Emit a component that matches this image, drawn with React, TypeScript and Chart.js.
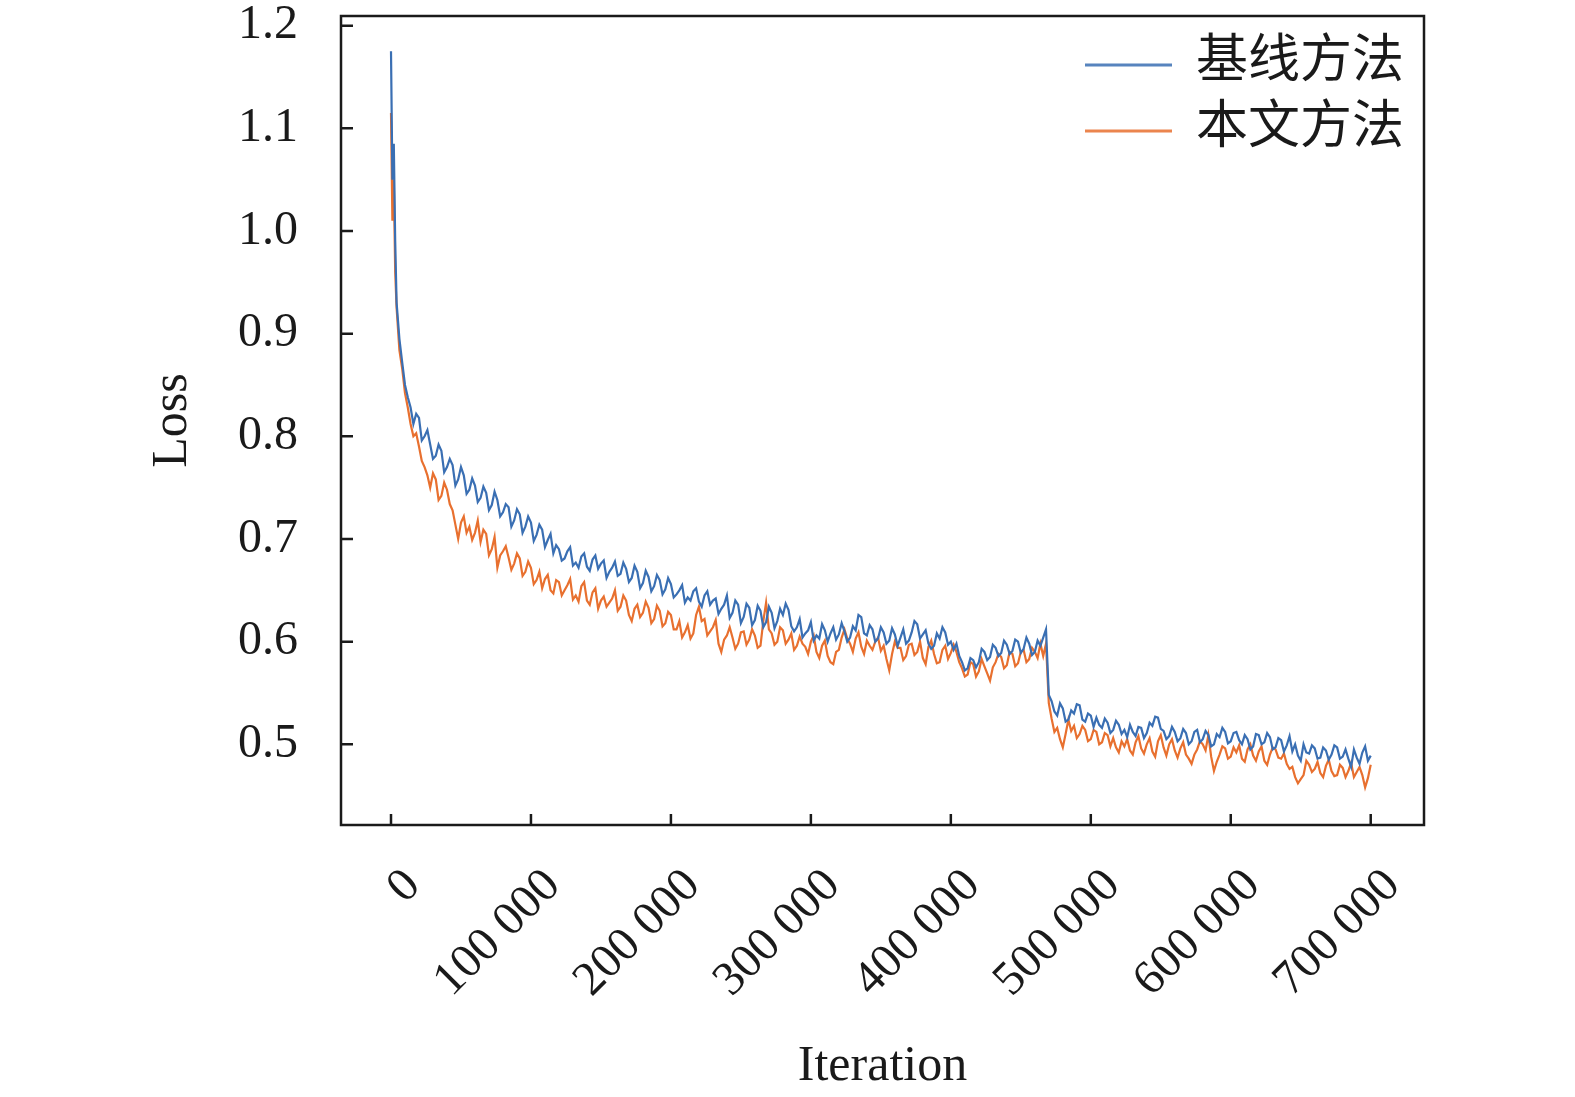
import { useEffect, useRef } from "react"
import { Chart, registerables } from "chart.js"

Chart.register(...registerables)

// sampling grid: a few dense points at the start, then every 2000 iterations
const headIterations = [0, 1000, 2000, 3000]
const iterations = [...headIterations, ...Array.from({ length: 349 }, (_, i) => 4000 + i * 2000)]

const seriesNames = ["基线方法", "本文方法"]

const baselineLoss = [
  1.175, 1.05, 1.085, 0.99,
  0.930, 0.895, 0.872, 0.850, 0.838, 0.828, 0.812, 0.822, 0.818, 0.796, 0.800, 0.806, 0.792, 0.778, 0.781, 0.792, 0.786, 0.765, 0.770, 0.778,
  0.772, 0.752, 0.758, 0.770, 0.762, 0.744, 0.748, 0.759, 0.752, 0.736, 0.740, 0.751, 0.745, 0.728, 0.733, 0.746, 0.738, 0.722, 0.726, 0.734,
  0.731, 0.712, 0.718, 0.729, 0.724, 0.706, 0.712, 0.722, 0.716, 0.698, 0.704, 0.714, 0.709, 0.692, 0.699, 0.705, 0.686, 0.694, 0.690, 0.679,
  0.681, 0.688, 0.692, 0.674, 0.677, 0.672, 0.683, 0.686, 0.673, 0.669, 0.680, 0.684, 0.671, 0.676, 0.679, 0.662, 0.668, 0.672, 0.678, 0.664,
  0.666, 0.677, 0.671, 0.658, 0.662, 0.674, 0.668, 0.652, 0.657, 0.669, 0.663, 0.649, 0.654, 0.665, 0.660, 0.646, 0.651, 0.662, 0.656, 0.643,
  0.646, 0.650, 0.655, 0.638, 0.643, 0.640, 0.649, 0.652, 0.639, 0.634, 0.645, 0.649, 0.636, 0.640, 0.642, 0.627, 0.632, 0.636, 0.645, 0.623,
  0.628, 0.640, 0.636, 0.618, 0.624, 0.637, 0.633, 0.616, 0.621, 0.635, 0.630, 0.614, 0.619, 0.634, 0.628, 0.613, 0.620, 0.632, 0.626, 0.637,
  0.631, 0.615, 0.610, 0.614, 0.622, 0.604, 0.608, 0.611, 0.619, 0.601, 0.606, 0.603, 0.617, 0.611, 0.600, 0.608, 0.614, 0.602, 0.607, 0.618,
  0.610, 0.600, 0.604, 0.615, 0.611, 0.626, 0.624, 0.608, 0.606, 0.616, 0.612, 0.600, 0.603, 0.614, 0.609, 0.598, 0.601, 0.613, 0.607, 0.596,
  0.604, 0.612, 0.598, 0.601, 0.609, 0.620, 0.617, 0.603, 0.607, 0.611, 0.598, 0.593, 0.596, 0.608, 0.603, 0.614, 0.609, 0.597, 0.600, 0.592,
  0.598, 0.586, 0.580, 0.572, 0.574, 0.584, 0.582, 0.575, 0.580, 0.593, 0.590, 0.582, 0.585, 0.597, 0.594, 0.586, 0.589, 0.601, 0.597, 0.588,
  0.591, 0.602, 0.600, 0.589, 0.593, 0.604, 0.598, 0.587, 0.590, 0.601, 0.596, 0.604, 0.612, 0.548,
  0.542, 0.532, 0.528, 0.540, 0.535, 0.522, 0.524, 0.533, 0.530, 0.539, 0.538, 0.524, 0.522, 0.530, 0.528, 0.517, 0.526, 0.519, 0.516, 0.525, 0.521, 0.511, 0.514, 0.523, 0.519, 0.510,
  0.514, 0.507, 0.519, 0.512, 0.508, 0.517, 0.516, 0.506, 0.511, 0.521, 0.518, 0.527, 0.526, 0.515, 0.513, 0.505, 0.508, 0.517, 0.512, 0.503,
  0.506, 0.515, 0.511, 0.500, 0.503, 0.512, 0.514, 0.502, 0.505, 0.513, 0.509, 0.498, 0.500, 0.510, 0.507, 0.516, 0.512, 0.501, 0.503, 0.511,
  0.512, 0.504, 0.500, 0.509, 0.505, 0.495, 0.498, 0.510, 0.509, 0.500, 0.502, 0.511, 0.507, 0.495, 0.497, 0.506, 0.504, 0.493, 0.499, 0.508,
  0.493, 0.500, 0.489, 0.484, 0.500, 0.492, 0.491, 0.499, 0.496, 0.486, 0.487, 0.497, 0.494, 0.485, 0.490, 0.499, 0.497, 0.486, 0.488, 0.495,
  0.486, 0.478, 0.495, 0.487, 0.481, 0.492, 0.498, 0.484, 0.489,
]

const proposedLoss = [
  1.115, 1.01, 1.05, 0.96,
  0.925, 0.884, 0.866, 0.842, 0.828, 0.812, 0.800, 0.803, 0.790, 0.776, 0.770, 0.762, 0.750, 0.764, 0.758, 0.738, 0.742, 0.755, 0.748, 0.734,
  0.728, 0.714, 0.700, 0.716, 0.722, 0.706, 0.712, 0.699, 0.706, 0.718, 0.697, 0.709, 0.705, 0.684, 0.690, 0.702, 0.672, 0.684, 0.688, 0.693,
  0.682, 0.670, 0.676, 0.686, 0.681, 0.664, 0.668, 0.678, 0.672, 0.656, 0.660, 0.668, 0.652, 0.661, 0.665, 0.650, 0.647, 0.660, 0.658, 0.645,
  0.650, 0.655, 0.661, 0.641, 0.645, 0.639, 0.654, 0.658, 0.640, 0.636, 0.648, 0.652, 0.632, 0.640, 0.644, 0.634, 0.638, 0.642, 0.650, 0.630,
  0.634, 0.645, 0.640, 0.626, 0.620, 0.632, 0.636, 0.624, 0.628, 0.639, 0.633, 0.618, 0.622, 0.635, 0.630, 0.615, 0.618, 0.629, 0.626, 0.612,
  0.612, 0.620, 0.604, 0.609, 0.616, 0.603, 0.608, 0.626, 0.634, 0.620, 0.622, 0.606, 0.610, 0.614, 0.621, 0.598, 0.590, 0.602, 0.606, 0.614,
  0.604, 0.593, 0.598, 0.609, 0.610, 0.597, 0.602, 0.612, 0.606, 0.594, 0.596, 0.620, 0.638, 0.612, 0.608, 0.597, 0.600, 0.614, 0.611, 0.598,
  0.602, 0.608, 0.592, 0.596, 0.605, 0.598, 0.595, 0.588, 0.600, 0.606, 0.590, 0.584, 0.596, 0.601, 0.586, 0.580, 0.578, 0.590, 0.592, 0.604,
  0.612, 0.603, 0.598, 0.590, 0.603, 0.609, 0.595, 0.588, 0.601, 0.596, 0.592, 0.600, 0.604, 0.591, 0.596, 0.583, 0.572, 0.588, 0.600, 0.594,
  0.594, 0.582, 0.586, 0.597, 0.598, 0.587, 0.590, 0.600, 0.584, 0.578, 0.595, 0.601, 0.588, 0.579, 0.580, 0.592, 0.596, 0.583, 0.589, 0.597,
  0.590, 0.580, 0.574, 0.566, 0.568, 0.580, 0.578, 0.566, 0.571, 0.583, 0.576, 0.569, 0.562, 0.575, 0.580, 0.588, 0.585, 0.574, 0.577, 0.590,
  0.588, 0.576, 0.579, 0.590, 0.592, 0.580, 0.583, 0.594, 0.590, 0.584, 0.598, 0.586, 0.598, 0.540,
  0.525, 0.512, 0.516, 0.505, 0.497, 0.510, 0.524, 0.513, 0.518, 0.506, 0.510, 0.518, 0.514, 0.503, 0.505, 0.514, 0.512, 0.500, 0.502, 0.511, 0.509, 0.498, 0.506, 0.497, 0.492, 0.503,
  0.498, 0.505, 0.494, 0.490, 0.502, 0.508, 0.496, 0.491, 0.500, 0.506, 0.493, 0.488, 0.503, 0.509, 0.497, 0.489, 0.500, 0.505, 0.494, 0.487,
  0.496, 0.502, 0.490, 0.486, 0.481, 0.490, 0.495, 0.503, 0.500, 0.494, 0.509, 0.488, 0.474, 0.483, 0.490, 0.498, 0.496, 0.486, 0.488, 0.497,
  0.492, 0.499, 0.486, 0.483, 0.495, 0.500, 0.489, 0.484, 0.493, 0.498, 0.484, 0.480, 0.490, 0.497, 0.495, 0.487, 0.486, 0.491, 0.481, 0.476,
  0.478, 0.468, 0.462, 0.466, 0.470, 0.484, 0.480, 0.473, 0.476, 0.483, 0.472, 0.468, 0.479, 0.485, 0.474, 0.469, 0.470, 0.480, 0.477, 0.468,
  0.474, 0.482, 0.468, 0.473, 0.478, 0.470, 0.458, 0.467, 0.480,
]

const xTicks = [0, 100000, 200000, 300000, 400000, 500000, 600000, 700000]
const yTicks = [0.5, 0.6, 0.7, 0.8, 0.9, 1.0, 1.1, 1.2]

const BLUE = "#3a6fb3"
const ORANGE = "#e8702f"
const INK = "#1a1a1a"
const SERIF = '"Liberation Serif", "Times New Roman", serif'
const CJK = '"Liberation Serif", "Noto Sans CJK SC", serif'

const fmtIteration = (v: number) => (v === 0 ? "0" : `${v / 1000} 000`)

// frame, inward ticks and the in-plot legend
const framePlugin = {
  id: "frame",
  afterDraw(chart: any) {
    const { ctx, chartArea, scales } = chart
    const { left, right, top, bottom } = chartArea
    ctx.save()
    ctx.strokeStyle = INK
    ctx.lineWidth = 2.5
    ctx.strokeRect(left, top, right - left, bottom - top)
    ctx.beginPath()
    xTicks.forEach((v) => {
      const px = scales.x.getPixelForValue(v)
      ctx.moveTo(px, bottom)
      ctx.lineTo(px, bottom - 11)
    })
    yTicks.forEach((v) => {
      const py = scales.y.getPixelForValue(v)
      ctx.moveTo(left, py)
      ctx.lineTo(left + 12, py)
    })
    ctx.stroke()

    const colors = [BLUE, ORANGE]
    ctx.font = `52px ${CJK}`
    ctx.textBaseline = "middle"
    ctx.textAlign = "left"
    seriesNames.forEach((name, i) => {
      const cy = top + 49 + i * 66
      ctx.strokeStyle = colors[i]
      ctx.globalAlpha = 0.85
      ctx.lineWidth = 3
      ctx.beginPath()
      ctx.moveTo(right - 339, cy)
      ctx.lineTo(right - 252, cy)
      ctx.stroke()
      ctx.globalAlpha = 1
      ctx.fillStyle = INK
      ctx.fillText(name, right - 228, cy - 2)
    })
    ctx.restore()
  },
}

const noScalePadding = (scale: any) => {
  scale.paddingTop = 0
  scale.paddingBottom = 0
  scale.paddingLeft = 0
  scale.paddingRight = 0
}

export default function App() {
  const canvasRef = useRef<HTMLCanvasElement | null>(null)
  const chartRef = useRef<Chart | null>(null)

  useEffect(() => {
    document.body.style.margin = "0"
    if (!canvasRef.current) return
    if (chartRef.current) chartRef.current.destroy()

    chartRef.current = new Chart(canvasRef.current, {
      type: "line",
      data: {
        datasets: [
          {
            label: seriesNames[0],
            data: iterations.map((x, i) => ({ x, y: baselineLoss[i] })),
            borderColor: BLUE,
            borderWidth: 2.2,
            pointRadius: 0,
          },
          {
            label: seriesNames[1],
            data: iterations.map((x, i) => ({ x, y: proposedLoss[i] })),
            borderColor: ORANGE,
            borderWidth: 2.2,
            pointRadius: 0,
          },
        ],
      },
      plugins: [framePlugin],
      options: {
        animation: false,
        responsive: true,
        maintainAspectRatio: false,
        layout: { padding: { top: 16, right: 151, left: 0, bottom: 0 } },
        plugins: {
          legend: { display: false },
          tooltip: { enabled: false },
        },
        scales: {
          x: {
            type: "linear",
            min: -35725,
            max: 738070,
            afterBuildTicks: (scale: any) => {
              scale.ticks = xTicks.map((value) => ({ value }))
            },
            afterFit: (scale: any) => {
              scale.height = 272
              noScalePadding(scale)
            },
            grid: { display: false, drawTicks: false },
            border: { display: false },
            ticks: {
              color: INK,
              font: { family: SERIF, size: 48 },
              minRotation: 45,
              maxRotation: 45,
              padding: 33,
              labelOffset: 22,
              callback: (v: any) => fmtIteration(Number(v)),
            },
            title: {
              display: true,
              text: "Iteration",
              color: INK,
              font: { family: SERIF, size: 50 },
              padding: { top: 0, bottom: 0 },
            },
          },
          y: {
            min: 0.4214,
            max: 1.2094,
            afterBuildTicks: (scale: any) => {
              scale.ticks = yTicks.map((value) => ({ value }))
            },
            afterFit: (scale: any) => {
              scale.width = 341
              noScalePadding(scale)
            },
            grid: { display: false, drawTicks: false },
            border: { display: false },
            ticks: {
              color: INK,
              font: { family: SERIF, size: 48 },
              padding: 43,
              callback: (v: any) => Number(v).toFixed(1),
            },
            title: {
              display: true,
              text: "Loss",
              color: INK,
              font: { family: SERIF, size: 50 },
              padding: { top: 143, bottom: 0 },
            },
          },
        },
      },
    })

    return () => {
      if (chartRef.current) {
        chartRef.current.destroy()
        chartRef.current = null
      }
    }
  }, [])

  return (
    <div style={{ width: "1575px", height: "1097px", position: "relative" }}>
      <canvas ref={canvasRef}></canvas>
    </div>
  )
}
